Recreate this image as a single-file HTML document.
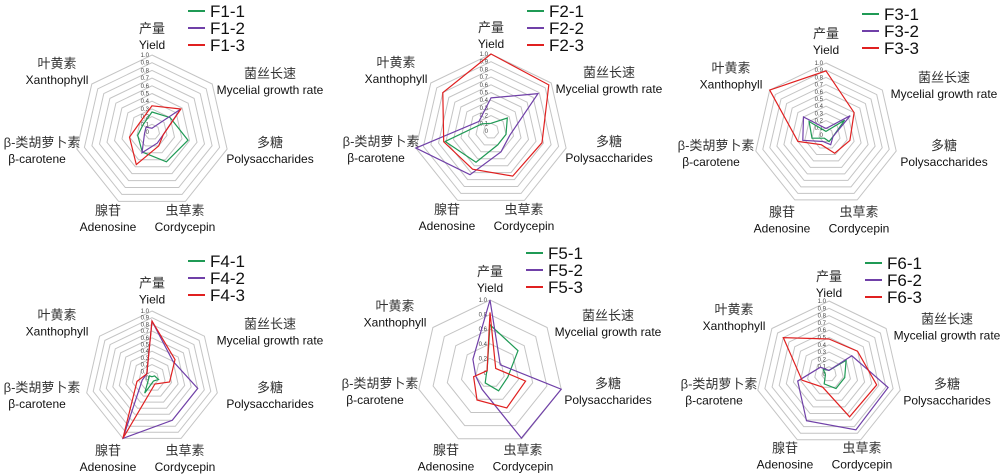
<!DOCTYPE html>
<html><head><meta charset="utf-8">
<style>
html,body{margin:0;padding:0;background:#fff;width:1000px;height:475px;overflow:hidden}
svg{display:block}
.cj{font-family:"Liberation Sans","Noto Sans CJK SC",sans-serif;font-size:13px;fill:#333}
.en{font-family:"Liberation Sans","Noto Sans CJK SC",sans-serif;font-size:12px;fill:#111}
.lg{font-family:"Liberation Sans",sans-serif;font-size:17px;fill:#111}
.tk{font-family:"Liberation Sans",sans-serif;font-size:6px;fill:#444}
</style></head><body>
<svg id="s" width="1000" height="475" xmlns="http://www.w3.org/2000/svg"></svg>
<script>
const charts=[
{n:1,cx:152,cy:132,R:77,t:10,s:1,ly:-121,d:[
[0.26,0.3,0.48,0.43,0.29,0.19,0.15],[0.05,0.47,0.15,0.16,0.3,0.1,0.1],[0.34,0.48,0.15,0.2,0.47,0.3,0.2]]},
{n:2,cx:491,cy:131,R:77,t:10,s:1,ly:-120,d:[
[0.1,0.27,0.2,0.2,0.45,0.61,0.15],[0.43,0.78,0.25,0.3,0.63,1.0,0.2],[1.0,0.96,0.68,0.65,0.55,0.63,0.8]]},
{n:3,cx:826,cy:135,R:72,t:10,s:0.98,ly:-121,d:[
[0.05,0.33,0.1,0.1,0.05,0.2,0.3],[0.09,0.43,0.1,0.15,0.1,0.33,0.4],[0.89,0.5,0.34,0.28,0.15,0.4,1.0]]},
{n:4,cx:152,cy:378,R:67,t:10,s:0.92,ly:-117,d:[
[0.02,0.05,0.1,0.05,0.25,0.05,0.05],[0.85,0.4,0.7,0.7,1.0,0.15,0.1],[0.85,0.44,0.27,0.1,1.0,0.23,0.1]]},
{n:5,cx:490,cy:373,R:73,t:5,s:0.98,ly:-120,d:[
[0.66,0.49,0.25,0.27,0.15,0.05,0.05],[1.0,0.18,1.0,0.99,0.25,0.2,0.3],[0.83,0.1,0.5,0.53,0.41,0.23,0.05]]},
{n:6,cx:829,cy:374,R:73,t:10,s:0.94,ly:-111,d:[
[0.05,0.3,0.22,0.22,0.15,0.05,0.1],[0.05,0.4,0.83,0.85,0.71,0.44,0.15],[0.48,0.5,0.67,0.65,0.2,0.38,0.8]]}
];
const cols=["#1f9a55","#7040a8","#e02020"];
let h="";
function pt(c,k,r){const a=k*2*Math.PI/7;return [c.cx+c.R*r*Math.sin(a),c.cy-c.R*r*Math.cos(a)];}
for(const c of charts){
 for(let i=1;i<=c.t;i++){const r=i/c.t;let p=[];for(let k=0;k<7;k++)p.push(pt(c,k,r).map(v=>v.toFixed(1)).join(","));
  h+=`<polygon points="${p.join(" ")}" fill="none" stroke="#c4c4c4" stroke-width="1"/>`;}
 for(let i=0;i<=c.t;i++){const r=i/c.t;const lab=c.t==10?(i==0?"0":(i==10?"1.0":(r.toFixed(1)))):(i==0?"0":r.toFixed(1));
  h+=`<text class="tk" x="${c.cx-3}" y="${(c.cy-c.R*r+2).toFixed(1)}" text-anchor="end">${lab}</text>`;}
 c.d.forEach((d,j)=>{const p=d.map((v,k)=>pt(c,k,v).map(x=>x.toFixed(1)).join(","));
  h+=`<polygon points="${p.join(" ")}" fill="none" stroke="${cols[j]}" stroke-width="1.2"/>`;});
 const s=c.s;
 const L=[["产量","Yield",0,-104,0],["菌丝长速","Mycelial growth rate",118,-59,0],["多糖","Polysaccharides",118,10,0],
 ["虫草素","Cordycepin",33,78,0],["腺苷","Adenosine",-44,78,0],["β-类胡萝卜素","β-carotene",-110,10,-5],["叶黄素","Xanthophyll",-95,-69,0]];
 for(const l of L){const x=c.cx+l[2],y=c.cy+l[3]*s;
  h+=`<text class="cj" x="${x}" y="${(y+5).toFixed(1)}" text-anchor="middle">${l[0]}</text>`;
  h+=`<text class="en" x="${x+l[4]}" y="${(y+21).toFixed(1)}" text-anchor="middle">${l[1]}</text>`;}
 for(let j=0;j<3;j++){const y=c.cy+c.ly+j*17;
  h+=`<line x1="${c.cx+36}" y1="${y}" x2="${c.cx+53}" y2="${y}" stroke="${cols[j]}" stroke-width="2"/>`;
  h+=`<text class="lg" x="${c.cx+58}" y="${y+6}">F${c.n}-${j+1}</text>`;}
}
document.getElementById("s").innerHTML=h;
</script>
</body></html>
